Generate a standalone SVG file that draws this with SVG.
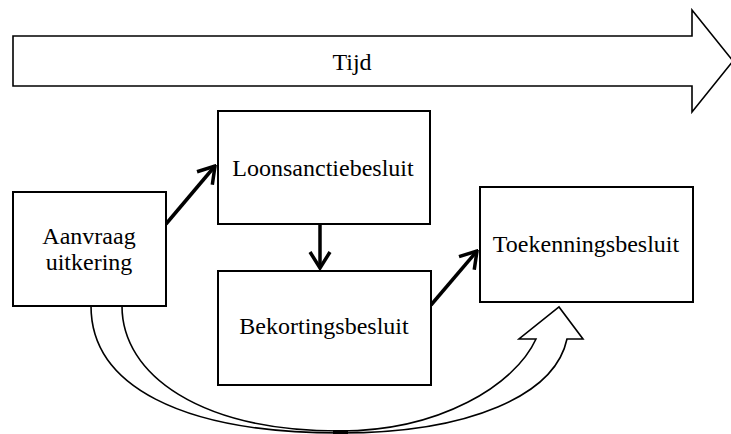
<svg xmlns="http://www.w3.org/2000/svg" width="731" height="434" viewBox="0 0 731 434">
<style>
.box{fill:#fff;stroke:#000;stroke-width:2}
.lbl{font-family:"Liberation Serif","DejaVu Serif",serif;font-size:24px;fill:#000;text-anchor:middle}
.conn{fill:none;stroke:#000;stroke-width:3.5;marker-end:url(#chev)}
.block{fill:#fff;stroke:#000;stroke-width:1.6;stroke-linejoin:miter}
</style>
<defs>
<marker id="chev" markerUnits="userSpaceOnUse" viewBox="-20 -12 22 24" refX="0" refY="0" markerWidth="22" markerHeight="24" orient="auto">
<path d="M-16,-10 L0,0 L-16,10" fill="none" stroke="#000" stroke-width="3.5"/>
</marker>
</defs>
<g id="tijd">
<path class="block" d="M13,36 L692,36 L692,10 L733,61 L692,112 L692,86 L13,86 Z" stroke-width="2"/>
<text class="lbl" x="352" y="70">Tijd</text>
</g>
<g id="connectors">
<path class="block" d="M91,306 C91,385 180,433 340,433 C470,433 555,395 567,339 L583,339 L559,307 L519,339 L536,339 C515,385 440,431 340,431 C200,431 122,375 122,306 Z"/>
<rect x="333" y="430" width="15" height="4" fill="#000"/>
<line class="conn" x1="166" y1="224" x2="215" y2="166"/>
<line class="conn" x1="320" y1="224" x2="320" y2="268"/>
<line class="conn" x1="431" y1="305" x2="477" y2="251"/>
</g>
<g id="aanvraag">
<rect class="box" x="13" y="192" width="153" height="114"/>
<text class="lbl" x="89" y="244">Aanvraag</text>
<text class="lbl" x="89" y="270">uitkering</text>
</g>
<g id="loonsanctie">
<rect class="box" x="218" y="111" width="212" height="113"/>
<text class="lbl" x="323" y="176">Loonsanctiebesluit</text>
</g>
<g id="bekorting">
<rect class="box" x="218" y="271" width="213" height="114"/>
<text class="lbl" x="324" y="334">Bekortingsbesluit</text>
</g>
<g id="toekenning">
<rect class="box" x="480" y="187" width="213" height="115"/>
<text class="lbl" x="586" y="252">Toekenningsbesluit</text>
</g>
</svg>
